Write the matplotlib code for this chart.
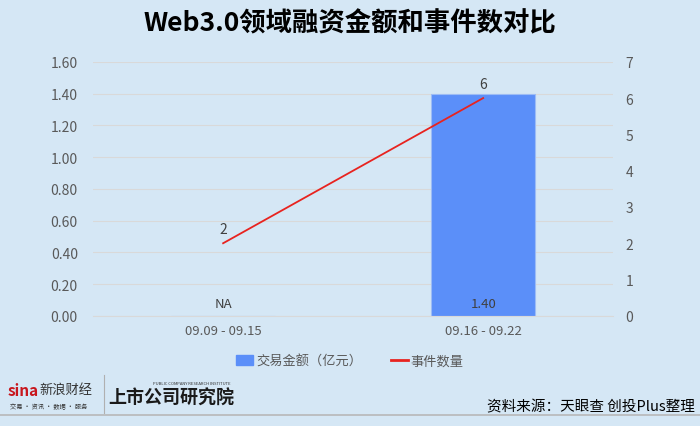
import matplotlib
matplotlib.use("Agg")
import matplotlib.pyplot as plt
from matplotlib.patches import Patch
from matplotlib.lines import Line2D

plt.rcParams['font.family'] = ['Noto Sans CJK SC', 'DejaVu Sans']

# data
periods = ["09.09 - 09.15", "09.16 - 09.22"]
amount = [0.0, 1.40]          # 交易金额（亿元）, first week NA
amount_labels = ["NA", "1.40"]
events = [2, 6]               # 事件数量
left_ticks = [0.0, 0.2, 0.4, 0.6, 0.8, 1.0, 1.2, 1.4, 1.6]
right_ticks = [0, 1, 2, 3, 4, 5, 6, 7]

bg = "#d5e7f5"
bar_color = "#5b8ff9"
line_color = "#e8231f"
text_gray = "#595959"

fig = plt.figure(figsize=(7, 4.27), dpi=100, facecolor=bg)
ax1 = fig.add_axes([0.133, 0.258, 0.743, 0.595], facecolor=bg)

x = range(len(periods))
ax1.bar(x, amount, width=0.4, color=bar_color, edgecolor="#9dbcf5", linewidth=0.8, zorder=2)
ax1.set_xlim(-0.5, 1.5)
ax1.set_ylim(0, 1.6)
ax1.set_yticks(left_ticks)
ax1.set_yticklabels([f"{t:.2f}" for t in left_ticks], color=text_gray, fontsize=10)
ax1.set_xticks(list(x))
ax1.set_xticklabels(periods, color=text_gray, fontsize=9.5)
ax1.grid(axis="y", color="#d9d9d9", linewidth=0.8, zorder=0)
ax1.tick_params(axis="y", length=0, pad=11)
ax1.tick_params(axis="x", length=0, pad=6)
for s in ax1.spines.values():
    s.set_visible(False)
ax1.spines["bottom"].set_visible(True)
ax1.spines["bottom"].set_color("#d9d9d9")

for i, lab in enumerate(amount_labels):
    ax1.text(i, 0.08, lab, ha="center", va="center", fontsize=9.5, color="#404040", zorder=4)

ax2 = ax1.twinx()
ax2.plot(list(x), events, color=line_color, linewidth=1.3, zorder=3)
ax2.set_ylim(0, 7)
ax2.set_yticks(right_ticks)
ax2.set_yticklabels([str(t) for t in right_ticks], color=text_gray, fontsize=10)
ax2.tick_params(length=0, pad=9)
for s in ax2.spines.values():
    s.set_visible(False)
for i, v in enumerate(events):
    ax2.text(i, v + 0.2, str(v), ha="center", va="bottom", fontsize=10, color="#404040")

# title
fig.text(0.5, 0.945, "Web3.0领域融资金额和事件数对比", ha="center", va="center",
         fontsize=19, fontweight="bold", color="black")

# legend
handles = [Patch(facecolor=bar_color, edgecolor=bar_color),
           Line2D([0], [0], color=line_color, linewidth=2)]
fig.legend(handles, ["交易金额（亿元）", "事件数量"], loc="center", bbox_to_anchor=(0.5, 0.152),
           ncol=2, frameon=False, fontsize=9.5, labelcolor=text_gray, handlelength=1.3,
           handletextpad=0.2, columnspacing=2.2)

# footer
fig.text(0.011, 0.085, "sina", fontsize=11, fontweight="bold", fontstyle="italic",
         color="#c8161d", va="center", ha="left")
fig.text(0.057, 0.085, "新浪财经", fontsize=9.5, fontstyle="italic", color="#333333",
         va="center", ha="left")
fig.text(0.014, 0.047, "交易 · 资讯 · 数据 · 服务", fontsize=4.5, color="#333333",
         va="center", ha="left")
fig.add_artist(Line2D([0.149, 0.149], [0.03, 0.12], transform=fig.transFigure,
                      color="#b0b0b0", linewidth=0.8))
fig.text(0.155, 0.068, "上市公司研究院", fontsize=13, fontweight="bold", fontstyle="italic",
         color="#1a1a1a", va="center", ha="left")
fig.text(0.218, 0.10, "PUBLIC COMPANY RESEARCH INSTITUTE", fontsize=3, color="#333333",
         va="center", ha="left")
fig.text(0.993, 0.047, "资料来源：天眼查 创投Plus整理", fontsize=10.5, color="black",
         va="center", ha="right")
fig.add_artist(Line2D([0, 1], [0.026, 0.026], transform=fig.transFigure,
                      color="#b8b8b8", linewidth=1.2))

fig.savefig("out.png", dpi=100, facecolor=bg)
